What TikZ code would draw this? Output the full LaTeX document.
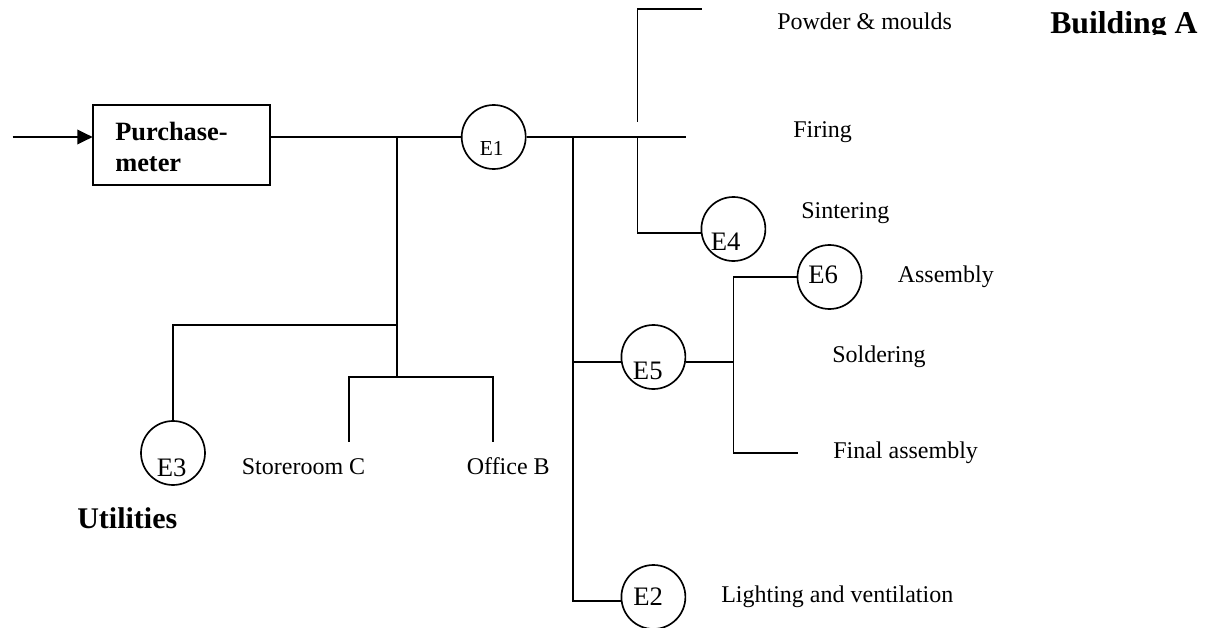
\documentclass[tikz,border=0pt]{standalone}
\usepackage{fontspec}
\setmainfont{Liberation Serif}
\usetikzlibrary{arrows.meta}
\tikzset{
  x=0.75pt,y=-0.75pt,
  wire/.style={draw=black,line width=1.25pt},
  meter/.style={circle,draw=black,line width=1.25pt,minimum size=48pt,inner sep=0pt,fill=white},
  lab/.style={anchor=base west,inner sep=0pt,font=\fontsize{18}{20}\selectfont},
  tag/.style={anchor=base west,inner sep=0pt,font=\fontsize{20}{24}\selectfont},
  boxlab/.style={anchor=base west,inner sep=0pt,font=\fontsize{19.8}{24}\selectfont\bfseries},
}
\begin{document}
\begin{tikzpicture}
\useasboundingbox (0,0) rectangle (1208,628);
% nodes
\node[draw=black,line width=1.25pt,minimum width=132.75pt,minimum height=60pt,inner sep=0pt] (pm) at (181.3,145) {};
\node[boxlab] (pm1) at (115,140.7) {Purchase-};
\node[boxlab] (pm2) at (115,171) {meter};
\node[meter] (e1) at (493.7,137) {};
\node[meter] (e2) at (653.4,597) {};
\node[meter] (e3) at (173,453) {};
\node[meter] (e4) at (733.4,229) {};
\node[meter] (e5) at (653.4,357) {};
\node[meter] (e6) at (829.5,277) {};
\node[anchor=base west,inner sep=0pt,font=\fontsize{16}{20}\selectfont] (t1) at (479.5,155) {E1};
\node[tag] (t2) at (633,605) {E2};
\node[tag] (t3) at (156.6,476) {E3};
\node[tag] (t4) at (710.5,250) {E4};
\node[tag] (t5) at (632.7,379) {E5};
\node[tag] (t6) at (808,283) {E6};
% junctions and free ends
\coordinate (in) at (12.6,137);
\coordinate (pmr) at (270,137);
\coordinate (pml) at (92.6,137);
\coordinate (j1) at (397,137);
\coordinate (j1a) at (397,325);
\coordinate (j1b) at (397,377);
\coordinate (a3) at (172.7,325);
\coordinate (sl) at (349,377);
\coordinate (slb) at (349,441.7);
\coordinate (sr) at (493,377);
\coordinate (srb) at (493,441.7);
\coordinate (j2) at (573,137);
\coordinate (j2a) at (573,361.7);
\coordinate (j2b) at (573,601);
\coordinate (end) at (686,137);
\coordinate (j3) at (637.6,137);
\coordinate (j3a) at (637.6,233);
\coordinate (p0) at (637.6,121.7);
\coordinate (p1) at (637.6,9.3);
\coordinate (p2) at (702,9.3);
\coordinate (j4) at (733.4,361.7);
\coordinate (j4t) at (733.4,277);
\coordinate (j4b) at (733.4,452.7);
\coordinate (fa) at (798,452.7);
% connectors
\draw[wire,-{Triangle[length=11.5pt,width=11pt]}] (in) -- (pml);
\draw[wire] (pmr) -- (e1.west);
\draw[wire] (j1) -- (j1b);
\draw[wire] (j1a) -- (a3) -- (e3.north -| a3);
\draw[wire] (slb) -- (sl) -- (sr) -- (srb);
\draw[wire] (e1.east) -- (end);
\draw[wire] (j2) -- (j2b) -- (j2b -| e2.west);
\draw[wire] (j2a) -- (j2a -| e5.west);
\draw[wire] (j2a -| e5.east) -- (j4);
\draw[wire] (j3) -- (j3a) -- (j3a -| e4.west);
\draw[wire] (p0) -- (p1) -- (p2);
\draw[wire] (j4t -| e6.west) -- (j4t) -- (j4b) -- (fa);
% labels
\node[lab] (l1) at (777,30) {Powder \& moulds};
\node[lab] (l2) at (793,137.7) {Firing};
\node[lab] (l3) at (801,218) {Sintering};
\node[lab] (l4) at (897.5,282) {Assembly};
\node[lab] (l5) at (832,362) {Soldering};
\node[lab] (l6) at (833,458) {Final assembly};
\node[lab] (l7) at (721,602) {Lighting and ventilation};
\node[lab] (l8) at (241.6,474) {Storeroom C};
\node[lab] (l9) at (466.6,474) {Office B};
\node[anchor=base west,inner sep=0pt,font=\fontsize{22.5}{26}\selectfont\bfseries] (u) at (77,528) {Utilities};
\begin{scope}
\clip (1040,0) rectangle (1208,34);
\node[anchor=base west,inner sep=0pt,font=\fontsize{23.8}{26}\selectfont\bfseries] (b) at (1050,33) {Building A};
\end{scope}
\end{tikzpicture}
\end{document}
